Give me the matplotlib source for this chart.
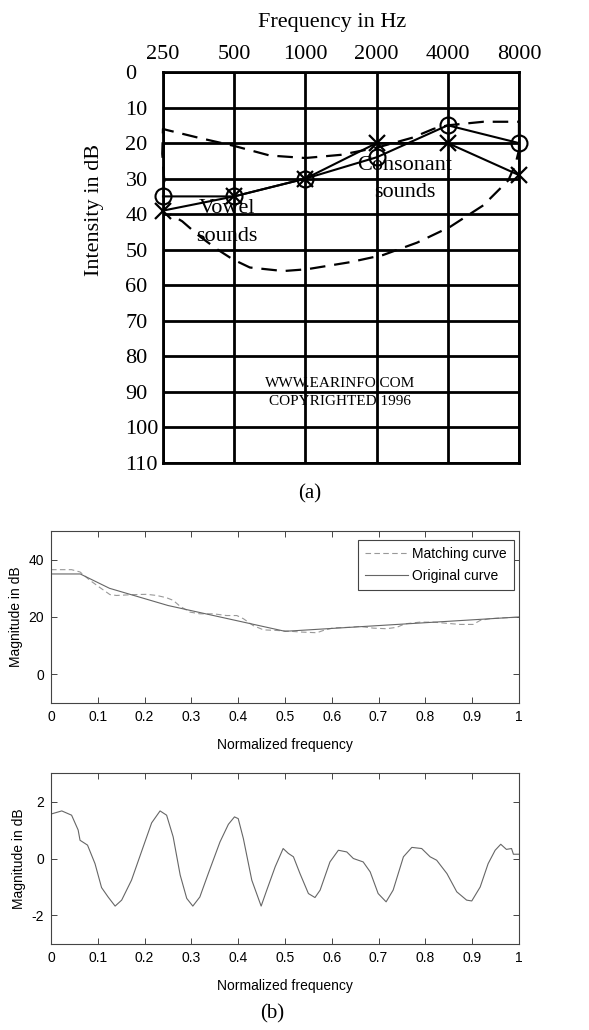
import numpy as np
import matplotlib
matplotlib.use("Agg")
from matplotlib import pyplot as plt

# ---- panel (a): audiogram ----
freq_labels = ["250", "500", "1000", "2000", "4000", "8000"]
db_ticks = [0, 10, 20, 30, 40, 50, 60, 70, 80, 90, 100, 110]
circle_db = [35, 35, 30, 24, 15, 20]
cross_db = [39, 35, 30, 20, 20, 29]

# speech banana outline (octave index, dB)
banana_idx = [0.02, -0.01, 0.0, 0.05, 0.5, 1.0, 1.5, 2.0, 2.5, 3.0, 3.5, 3.8, 4.0, 4.5, 5.0,
              5.0, 4.95, 4.85, 4.5, 4.03, 3.57, 3.09, 2.63, 2.02, 1.69, 1.22, 0.98, 0.77, 0.5, 0.27, 0.1]
banana_db = [31, 23, 16, 16.3, 18.5, 20.8, 23.5, 24.2, 23.3, 21.3, 18.5, 16, 15, 14, 14,
             22, 26, 30.5, 37.5, 43.6, 48, 51.5, 53.5, 55.5, 56, 55, 52.7, 50, 46, 42, 40]

# ---- panel (b) top: magnitude curves ----
orig_x = [0, 0.0625, 0.125, 0.25, 0.5, 1.0]
orig_y = [35, 35, 30, 24, 15, 20]
match_x = [0, 0.044, 0.062, 0.083, 0.105, 0.126, 0.14, 0.176, 0.204, 0.226, 0.247, 0.261, 0.276,
           0.297, 0.318, 0.347, 0.375, 0.397, 0.411, 0.432, 0.454, 0.482, 0.511, 0.539, 0.568,
           0.582, 0.603, 0.639, 0.66, 0.689, 0.717, 0.739, 0.756, 0.788, 0.817, 0.845, 0.874,
           0.902, 0.917, 0.938, 0.966, 1.0]
match_y = [36.5, 36.5, 35.7, 32.8, 30.2, 27.8, 27.5, 27.8, 27.9, 27.5, 26.7, 25.8, 23.7,
           21.7, 21.1, 21.1, 20.5, 20.5, 19.4, 17.0, 15.5, 15.3, 15.0, 14.7, 14.5,
           15.3, 16.2, 16.4, 16.7, 16.1, 15.9, 16.4, 17.6, 18.2, 18.2, 17.8, 17.4,
           17.4, 18.8, 19.4, 19.7, 19.9]

# ---- panel (b) bottom: difference curve ----
err_x = [0, 0.023, 0.044, 0.058, 0.062, 0.078, 0.094, 0.108, 0.122, 0.137, 0.151, 0.172, 0.197,
         0.215, 0.233, 0.247, 0.261, 0.276, 0.29, 0.303, 0.318, 0.336, 0.361, 0.379, 0.392, 0.4,
         0.411, 0.429, 0.449, 0.461, 0.479, 0.496, 0.507, 0.518, 0.532, 0.55, 0.564, 0.575, 0.596,
         0.614, 0.632, 0.646, 0.667, 0.682, 0.699, 0.716, 0.731, 0.753, 0.771, 0.792, 0.81, 0.824,
         0.846, 0.867, 0.888, 0.899, 0.917, 0.934, 0.949, 0.961, 0.973, 0.984, 0.988, 1.0]
err_y = [1.56, 1.67, 1.52, 1.0, 0.64, 0.47, -0.18, -1.02, -1.35, -1.67, -1.46, -0.76, 0.41,
         1.25, 1.67, 1.52, 0.76, -0.58, -1.40, -1.67, -1.35, -0.53, 0.58, 1.20, 1.46, 1.40,
         0.70, -0.76, -1.67, -1.11, -0.29, 0.35, 0.18, 0.06, -0.53, -1.23, -1.37, -1.11, -0.12,
         0.29, 0.23, 0.0, -0.12, -0.47, -1.23, -1.52, -1.11, 0.06, 0.39, 0.35, 0.06, -0.06,
         -0.53, -1.17, -1.46, -1.49, -1.0, -0.18, 0.29, 0.5, 0.32, 0.35, 0.15, 0.15]

serif = "Liberation Serif"
sans = "Liberation Sans"

fig = plt.figure(figsize=(5.89, 10.30), dpi=100)

# audiogram
ax = fig.add_axes([0.2767, 0.5505, 0.6044, 0.3796])
idx = np.arange(len(freq_labels))
ax.set_xlim(0, 5)
ax.set_ylim(110, 0)
ax.set_xticks(idx)
ax.set_xticklabels(freq_labels, fontfamily=serif, fontsize=16)
ax.xaxis.tick_top()
ax.set_yticks(db_ticks)
ax.set_yticklabels([str(v) for v in db_ticks], fontfamily=serif, fontsize=16)
ax.tick_params(axis='x', length=0, pad=6)
ax.tick_params(axis='y', length=0, pad=27)
for lbl in ax.get_yticklabels():
	lbl.set_horizontalalignment('left')
ax.grid(True, color='black', linewidth=2.0)
for s in ax.spines.values():
	s.set_linewidth(2.0)

ax.plot(banana_idx, banana_db, color='black', linestyle=(0, (7, 4)), linewidth=1.6, clip_on=False)
ax.plot(idx, circle_db, color='black', linewidth=1.5, marker='o', markersize=11.5,
		fillstyle='none', markeredgewidth=1.5, clip_on=False)
ax.plot(idx, cross_db, color='black', linewidth=1.5, marker='x', markersize=12,
		markeredgewidth=1.6, clip_on=False)

ax.text(0.9, 38.3, "Vowel", fontfamily=serif, fontsize=16, ha='center', va='center')
ax.text(0.89, 46.4, "sounds", fontfamily=serif, fontsize=16, ha='center', va='center')
ax.text(3.4, 26.2, "Consonant", fontfamily=serif, fontsize=16, ha='center', va='center')
ax.text(3.4, 33.8, "sounds", fontfamily=serif, fontsize=16, ha='center', va='center')
ax.text(2.49, 87.5, "WWW.EARINFO.COM", fontfamily=serif, fontsize=11, ha='center', va='center')
ax.text(2.49, 92.8, "COPYRIGHTED 1996", fontfamily=serif, fontsize=11, ha='center', va='center')

fig.text(332 / 589, 1 - 22 / 1030, "Frequency in Hz", fontfamily=serif, fontsize=16,
		 ha='center', va='center')
fig.text(95 / 589, 1 - 210 / 1030, "Intensity in dB", fontfamily=serif, fontsize=16,
		 ha='center', va='center', rotation=90)
fig.text(310 / 589, 1 - 494 / 1030, "(a)", fontfamily=serif, fontsize=15, ha='center', va='center')
fig.text(272 / 589, 1 - 1014 / 1030, "(b)", fontfamily=serif, fontsize=15, ha='center', va='center')


def style_matlab(a):
	a.tick_params(direction='in', length=4, width=0.7, top=True, right=True,
				  labelsize=10, colors='#444444', labelcolor='black', pad=5)
	for s in a.spines.values():
		s.set_linewidth(0.8)
		s.set_color('#444444')
	a.set_xlim(0, 1)
	a.set_xticks(np.arange(0, 1.01, 0.1))
	a.set_xticklabels(["0", "0.1", "0.2", "0.3", "0.4", "0.5", "0.6", "0.7", "0.8", "0.9", "1"],
					  fontfamily=sans)
	a.set_xlabel("Normalized frequency", fontfamily=sans, fontsize=10, labelpad=10)
	a.set_ylabel("Magnitude in dB", fontfamily=sans, fontsize=10)


# matching curve
ax1 = fig.add_axes([0.0866, 0.3175, 0.7946, 0.167])
ax1.plot(match_x, match_y, color='#999999', linestyle=(0, (5, 3)), linewidth=0.8, label="Matching curve")
ax1.plot(orig_x, orig_y, color='#666666', linewidth=0.8, label="Original curve")
style_matlab(ax1)
ax1.set_ylim(-10, 50)
ax1.set_yticks([0, 20, 40])
ax1.set_yticklabels(["0", "20", "40"], fontfamily=sans)
leg = ax1.legend(loc='upper right', bbox_to_anchor=(0.989, 0.948), borderaxespad=0,
				 prop={'family': sans, 'size': 10}, handlelength=3.1, handletextpad=0.3,
				 labelspacing=0.6, fancybox=False, framealpha=1, borderpad=0.5)
leg.get_frame().set_edgecolor('#444444')
leg.get_frame().set_linewidth(0.8)

# difference curve
ax2 = fig.add_axes([0.0866, 0.0835, 0.7946, 0.166])
ax2.plot(err_x, err_y, color='#666666', linewidth=0.8)
style_matlab(ax2)
ax2.set_ylim(-3, 3)
ax2.set_yticks([-2, 0, 2])
ax2.set_yticklabels(["-2", "0", "2"], fontfamily=sans)

fig.savefig("out.png", dpi=100)
